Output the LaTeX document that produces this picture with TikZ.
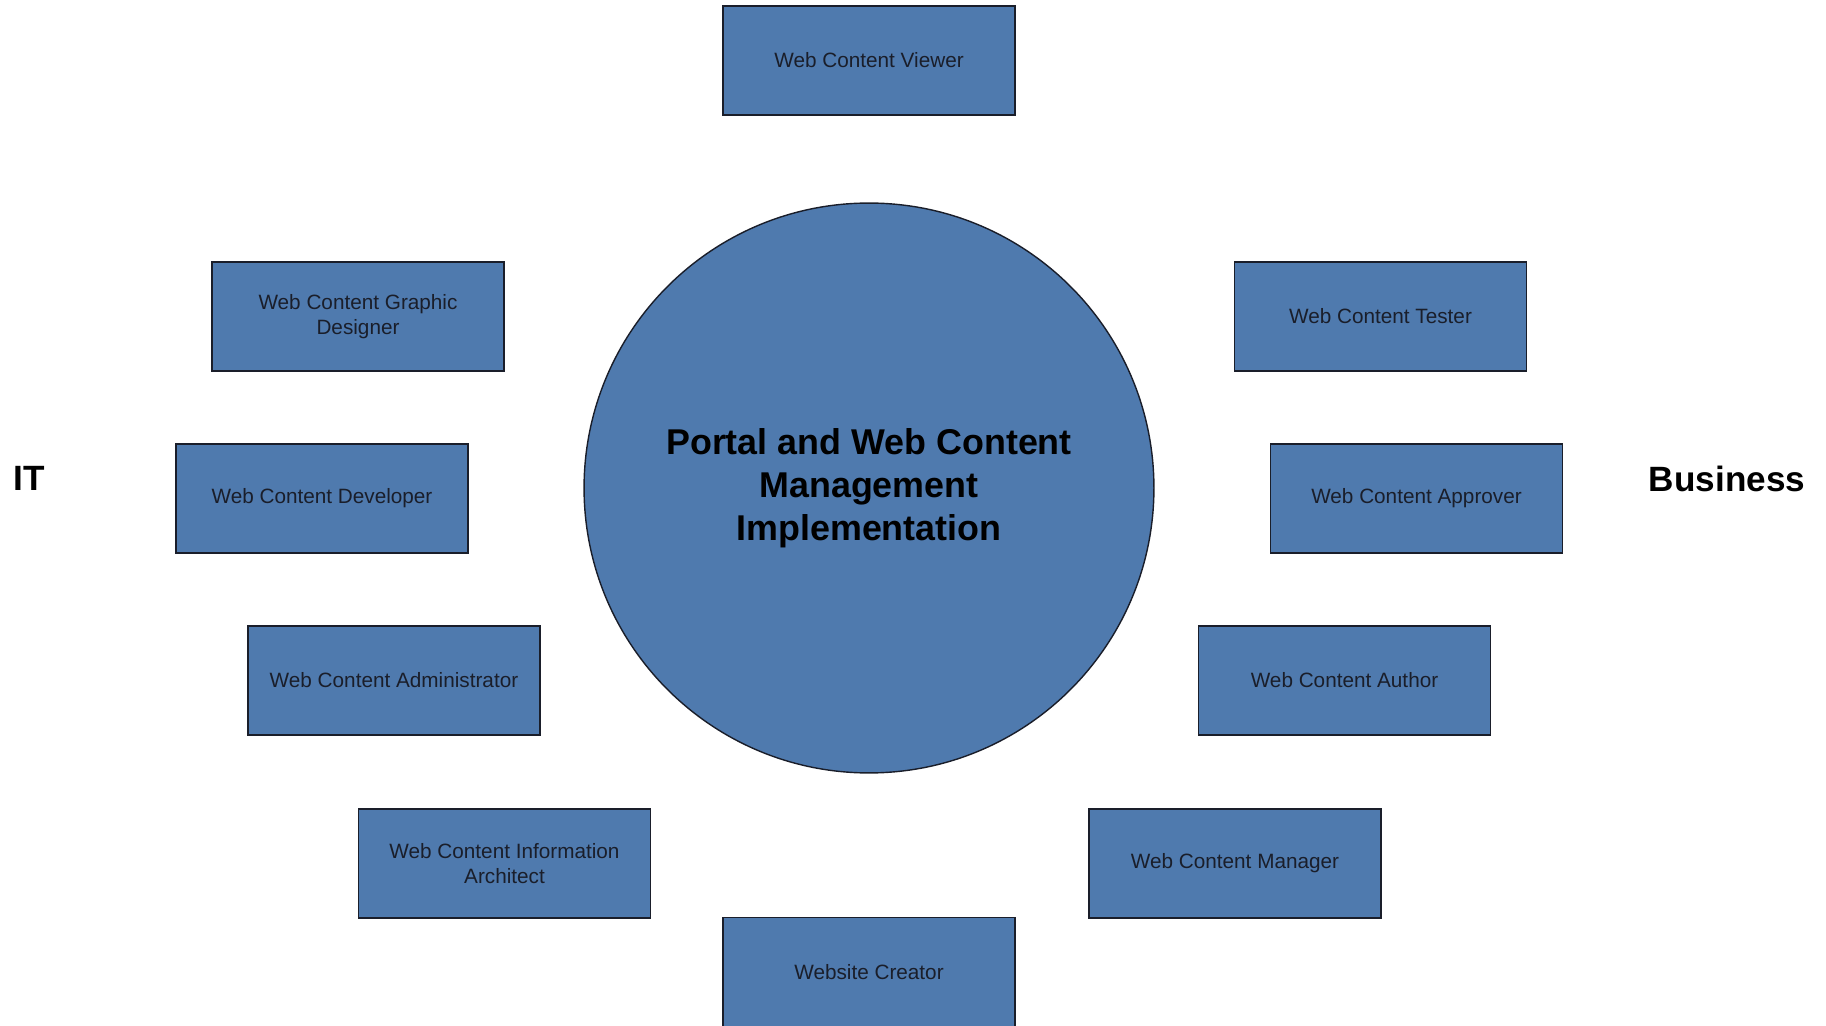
\documentclass[tikz,border=0pt]{standalone}
\usepackage{fontspec}
\setmainfont{Liberation Sans}
\usepackage{tikz}
\usetikzlibrary{positioning}
\definecolor{azul}{RGB}{79, 122, 174}
\definecolor{tinta}{RGB}{26, 30, 42}
\tikzset{
    role/.style={draw=tinta, fill=azul, text=tinta, rectangle, minimum width=5.84cm, minimum height=2.18cm, line width=0.8pt, align=center, inner sep=2pt, font=\fontsize{11.8}{14.5}\selectfont},
    hub/.style={draw=tinta, fill=azul, circle, minimum size=11.4cm, line width=0.8pt, align=center, font=\fontsize{20.4}{24.4}\selectfont\bfseries},
    side/.style={text=black, font=\fontsize{20}{24}\selectfont\bfseries},
}

\begin{document}
\begin{tikzpicture}[x=0.02cm, y=-0.02cm]
            \useasboundingbox (0,0) rectangle (1826,1026);

            \node [hub] (core) at (869, 488) {Portal and Web Content\\Management\\Implementation};

            \node [role] (viewer) at (869, 60.5) {Web Content Viewer};
            \node [role] (creator) at (869, 972) {Website Creator};

            \node [role] (graphic) at (358, 316.5) {Web Content Graphic\\Designer};
            \node [role] (developer) at (322, 498.5) {Web Content Developer};
            \node [role] (admin) at (394, 680.5) {Web Content Administrator};
            \node [role] (infoarch) at (504.5, 863.5) {Web Content Information\\Architect};

            \node [role] (tester) at (1380.5, 316.5) {Web Content Tester};
            \node [role] (approver) at (1416.5, 498.5) {Web Content Approver};
            \node [role] (author) at (1344.5, 680.5) {Web Content Author};
            \node [role] (manager) at (1235, 863.5) {Web Content Manager};

            \node [side] (it) at (29, 478) {IT};
            \node [side] (business) at (1727, 479) {Business};
        \end{tikzpicture}
\end{document}
